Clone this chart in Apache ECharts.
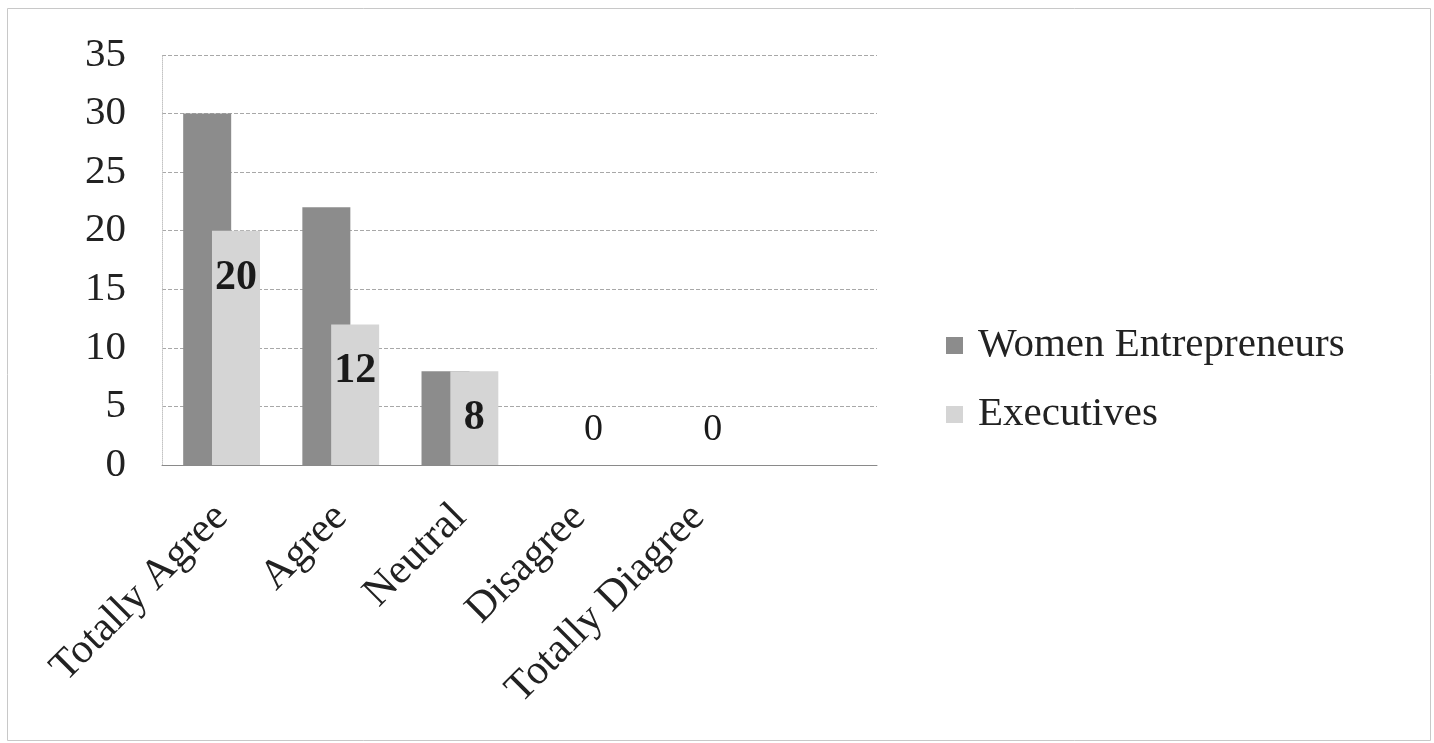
<!DOCTYPE html>
<html>
<head>
<meta charset="utf-8">
<script src="https://cdn.jsdelivr.net/npm/echarts@6/dist/echarts.min.js"></script>
<style>
html,body{margin:0;padding:0;background:#fff;}
#c{width:1434px;height:743px;}
</style>
</head>
<body>
<div id="c"></div>
<script>
// Data
var categories = ['Totally Agree', 'Agree', 'Neutral', 'Disagree', 'Totally Diagree', ''];
var womenEntrepreneurs = [30, 22, 8, 0, 0, null];
var executives = [20, 12, 8, 0, 0, null];
var yTicks = [0, 5, 10, 15, 20, 25, 30, 35];
var seriesNames = ['Women Entrepreneurs', 'Executives'];

var FONT = '"Liberation Serif", "DejaVu Serif", serif';

var chart = echarts.init(document.getElementById('c'), null, {renderer: 'canvas'});

var execData = executives.map(function (v) {
  if (v === null) return null;
  if (v === 0) {
    return {value: v, label: {show: true, position: 'top', distance: 16, fontWeight: 'normal', fontSize: 38}};
  }
  return {value: v, label: {show: true, position: 'insideTop', distance: 26, fontWeight: 'bold'}};
});

chart.setOption({
  backgroundColor: '#ffffff',
  animation: false,
  graphic: [{
    type: 'rect',
    left: 5, top: 6,
    shape: {width: 1423, height: 732},
    style: {fill: 'none', stroke: '#c8c8c8', lineWidth: 1},
    silent: true
  }],
  grid: {left: 162, right: 557, top: 55, bottom: 278, containLabel: false},
  legend: {
    orient: 'vertical',
    left: 941,
    top: 320,
    itemWidth: 17,
    itemHeight: 17,
    itemGap: 28,
    icon: 'rect',
    data: seriesNames,
    textStyle: {fontFamily: FONT, fontSize: 41, color: '#222', padding: [0, 0, 0, 10]}
  },
  xAxis: {
    type: 'category',
    data: categories,
    axisLine: {show: true, lineStyle: {color: '#8a8a8a', width: 1}},
    axisTick: {show: false},
    axisLabel: {
      rotate: 45,
      interval: 0,
      margin: 46,
      fontFamily: FONT,
      fontSize: 42,
      color: '#222'
    }
  },
  yAxis: {
    type: 'value',
    min: 0,
    max: 35,
    interval: 5,
    axisLine: {show: true, lineStyle: {color: '#c4c4c4', type: 'dotted', width: 1}},
    axisTick: {show: false},
    axisLabel: {
      margin: 36,
      fontFamily: FONT,
      fontSize: 41,
      color: '#222',
      formatter: function (v) { return yTicks.indexOf(v) >= 0 ? String(v) : ''; }
    },
    splitLine: {show: true, lineStyle: {color: '#a8a8a8', type: 'dashed', width: 1}}
  },
  series: [
    {
      name: seriesNames[0],
      type: 'bar',
      data: womenEntrepreneurs,
      barWidth: 48,
      barGap: '-40%',
      itemStyle: {color: '#8c8c8c'},
      label: {show: false}
    },
    {
      name: seriesNames[1],
      type: 'bar',
      data: execData,
      barWidth: 48,
      barGap: '-40%',
      itemStyle: {color: '#d5d5d5'},
      label: {
        show: true,
        fontFamily: FONT,
        fontSize: 42,
        color: '#1a1a1a'
      }
    }
  ]
});
</script>
</body>
</html>
